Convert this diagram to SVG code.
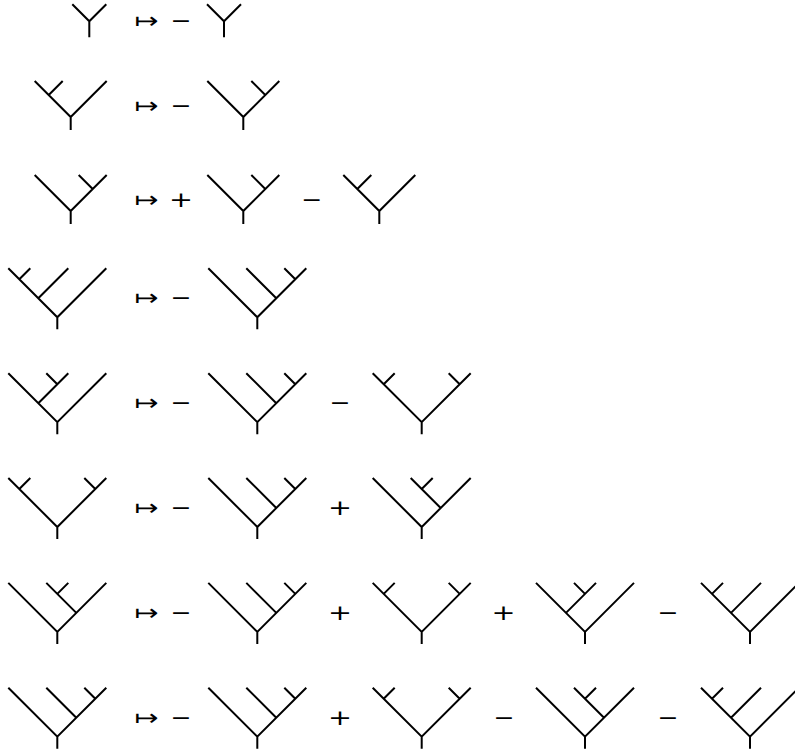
<svg xmlns="http://www.w3.org/2000/svg" xmlns:xlink="http://www.w3.org/1999/xlink" width="795" height="751" viewBox="0 0 795 751">
<style>
.t{fill:none;stroke:#000;stroke-width:2;stroke-linejoin:miter;stroke-linecap:butt}
.op{font-family:"DejaVu Sans",sans-serif;font-size:22px;text-anchor:middle;fill:#000}
</style>
<defs>
<path id="Y" class="t" d="M-17,-17 L0,0 L17,-17 M0,0 V16"/>
<path id="L3" class="t" d="M-36,-36 L0,0 L36,-36 M-22,-22 L-8,-36 M0,0 V13"/>
<path id="R3" class="t" d="M-36,-36 L0,0 L36,-36 M22,-22 L8,-36 M0,0 V13"/>
<path id="A" class="t" d="M-49,-49 L0,0 L49,-49 M-19,-19 L11,-49 M-38,-38 L-27,-49 M0,0 V12"/>
<path id="B" class="t" d="M-49,-49 L0,0 L49,-49 M19,-19 L-11,-49 M38,-38 L27,-49 M0,0 V12"/>
<path id="C" class="t" d="M-49,-49 L0,0 L49,-49 M-19,-19 L11,-49 M0,-38 L-11,-49 M0,0 V12"/>
<path id="D" class="t" d="M-49,-49 L0,0 L49,-49 M19,-19 L-11,-49 M0,-38 L11,-49 M0,0 V12"/>
<path id="E" class="t" d="M-49,-49 L0,0 L49,-49 M-38,-38 L-27,-49 M38,-38 L27,-49 M0,0 V12"/>
</defs>

<!-- Row 1 -->
<g id="r1c0"><use href="#Y" x="89.3" y="21.3"/></g>
<g id="r1c1"><use href="#Y" x="224" y="21.3"/></g>
<!-- Row 2 -->
<g id="r2c0"><use href="#L3" x="70.7" y="117"/></g>
<g id="r2c1"><use href="#R3" x="243.3" y="117"/></g>
<!-- Row 3 -->
<g id="r3c0"><use href="#R3" x="70.7" y="211"/></g>
<g id="r3c1"><use href="#R3" x="243.3" y="211"/></g>
<g id="r3c2"><use href="#L3" x="379.3" y="211"/></g>
<!-- Row 4 -->
<g id="r4c0"><use href="#A" x="57.3" y="317.3"/></g>
<g id="r4c1"><use href="#B" x="257.3" y="317.3"/></g>
<!-- Row 5 -->
<g id="r5c0"><use href="#C" x="57.3" y="422.2"/></g>
<g id="r5c1"><use href="#B" x="257.3" y="422.2"/></g>
<g id="r5c2"><use href="#E" x="421.7" y="422.2"/></g>
<!-- Row 6 -->
<g id="r6c0"><use href="#E" x="57.3" y="527"/></g>
<g id="r6c1"><use href="#B" x="257.3" y="527"/></g>
<g id="r6c2"><use href="#D" x="421.7" y="527"/></g>
<!-- Row 7 -->
<g id="r7c0"><use href="#D" x="57.3" y="631.9"/></g>
<g id="r7c1"><use href="#B" x="257.3" y="631.9"/></g>
<g id="r7c2"><use href="#E" x="421.7" y="631.9"/></g>
<g id="r7c3"><use href="#C" x="585" y="631.9"/></g>
<g id="r7c4"><use href="#A" x="750" y="631.9"/></g>
<!-- Row 8 -->
<g id="r8c0"><use href="#B" x="57.3" y="736.7"/></g>
<g id="r8c1"><use href="#B" x="257.3" y="736.7"/></g>
<g id="r8c2"><use href="#E" x="421.7" y="736.7"/></g>
<g id="r8c3"><use href="#D" x="585" y="736.7"/></g>
<g id="r8c4"><use href="#A" x="750" y="736.7"/></g>

<g id="operators">
<text class="op" x="146.5" y="28.3" textLength="24" lengthAdjust="spacingAndGlyphs">↦</text>
<text class="op" x="181" y="28.3" textLength="21" lengthAdjust="spacingAndGlyphs">−</text>

<text class="op" x="146.5" y="113.3" textLength="24" lengthAdjust="spacingAndGlyphs">↦</text>
<text class="op" x="181" y="113.3" textLength="21" lengthAdjust="spacingAndGlyphs">−</text>

<text class="op" x="146.5" y="207.3" textLength="24" lengthAdjust="spacingAndGlyphs">↦</text>
<text class="op" x="181" y="207.3" textLength="24" lengthAdjust="spacingAndGlyphs">+</text>
<text class="op" x="311.7" y="206.6" textLength="21" lengthAdjust="spacingAndGlyphs">−</text>

<text class="op" x="146.5" y="305.1" textLength="24" lengthAdjust="spacingAndGlyphs">↦</text>
<text class="op" x="181" y="305.1" textLength="21" lengthAdjust="spacingAndGlyphs">−</text>

<text class="op" x="146.5" y="410.1" textLength="24" lengthAdjust="spacingAndGlyphs">↦</text>
<text class="op" x="181" y="410.1" textLength="21" lengthAdjust="spacingAndGlyphs">−</text>
<text class="op" x="340" y="410.1" textLength="21" lengthAdjust="spacingAndGlyphs">−</text>

<text class="op" x="146.5" y="515.1" textLength="24" lengthAdjust="spacingAndGlyphs">↦</text>
<text class="op" x="181" y="515.1" textLength="21" lengthAdjust="spacingAndGlyphs">−</text>
<text class="op" x="340" y="515.1" textLength="24" lengthAdjust="spacingAndGlyphs">+</text>

<text class="op" x="146.5" y="619.9" textLength="24" lengthAdjust="spacingAndGlyphs">↦</text>
<text class="op" x="181" y="619.9" textLength="21" lengthAdjust="spacingAndGlyphs">−</text>
<text class="op" x="340" y="619.9" textLength="24" lengthAdjust="spacingAndGlyphs">+</text>
<text class="op" x="503.5" y="619.9" textLength="24" lengthAdjust="spacingAndGlyphs">+</text>
<text class="op" x="668" y="619.9" textLength="21" lengthAdjust="spacingAndGlyphs">−</text>

<text class="op" x="146.5" y="724.9" textLength="24" lengthAdjust="spacingAndGlyphs">↦</text>
<text class="op" x="181" y="724.9" textLength="21" lengthAdjust="spacingAndGlyphs">−</text>
<text class="op" x="340" y="724.9" textLength="24" lengthAdjust="spacingAndGlyphs">+</text>
<text class="op" x="504" y="724.9" textLength="21" lengthAdjust="spacingAndGlyphs">−</text>
<text class="op" x="668" y="724.9" textLength="21" lengthAdjust="spacingAndGlyphs">−</text>
</g>
</svg>
